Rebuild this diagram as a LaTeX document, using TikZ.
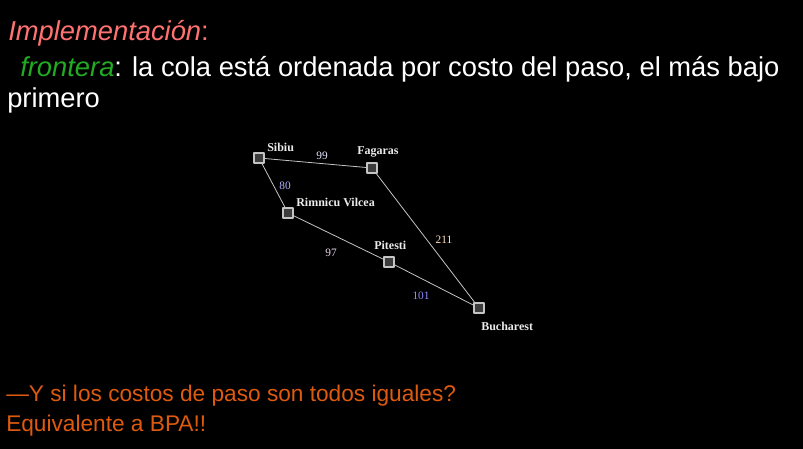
\documentclass[tikz,border=0pt]{standalone}
\usepackage{fontspec}
\setmainfont{Liberation Serif}
\setsansfont{Liberation Sans}
\definecolor{rosa}{HTML}{FF7272}
\definecolor{verde}{HTML}{22AA22}
\definecolor{naranja}{HTML}{DD5A0E}
\definecolor{borde}{HTML}{C4C4C4}
\definecolor{relleno}{HTML}{3C3C3C}
\tikzset{
  city/.style={draw=borde, fill=relleno, line width=1.5pt, minimum size=7.8pt, inner sep=0pt},
  cname/.style={font=\fontsize{9}{10}\selectfont\bfseries, text=white!92!black, anchor=base west, inner sep=0pt},
  wt/.style={font=\fontsize{8.5}{10}\selectfont, inner sep=0pt},
  road/.style={draw=borde, line width=0.6pt},
  txt/.style={font=\sffamily\fontsize{20.5}{22}\selectfont, anchor=base west, inner sep=0pt},
  pie/.style={font=\sffamily\fontsize{17}{20}\selectfont, anchor=base west, inner sep=0pt, text=naranja}
}
\begin{document}
\begin{tikzpicture}[x=0.75pt,y=-0.75pt, line join=round, line cap=round]
\fill[black] (0,0) rectangle (803,449);
\useasboundingbox (0,0) rectangle (803,449);
% texto de arriba
\node[txt, text=rosa] (imp) at (8,41) {\itshape Implementación\upshape:};
\node[txt, text=white] (fro) at (20,77) {\textcolor{verde}{\itshape frontera}: la cola está ordenada por costo del paso, el más bajo};
\node[txt, text=white] (pri) at (7,108) {primero};
% ciudades
\node[city] (sib) at (259,158) {};
\node[city] (fag) at (372,168) {};
\node[city] (rim) at (288,213) {};
\node[city] (pit) at (389,262) {};
\node[city] (buc) at (479,308) {};
\draw[road] (sib) -- (fag) (sib) -- (rim) (rim) -- (pit) (pit) -- (buc) (fag) -- (buc);
\foreach \c/\x/\y/\t in {sib/267/152/Sibiu, fag/357/155/Fagaras, rim/296/206/Rimnicu Vilcea, pit/374/249/Pitesti, buc/481/330/Bucharest}{
  \node[cname] (l\c) at (\x,\y) {\t};
}
% costos
\node[wt, text=blue!10!white] (w99) at (322,156) {99};
\node[wt, text=blue!30!white] (w80) at (285,186) {80};
\node[wt, text=violet!15!white] (w97) at (331,253) {97};
\node[wt, text=orange!25!white] (w211) at (444,240) {211};
\node[wt, text=blue!45!white] (w101) at (421,296) {101};
% texto de abajo
\node[pie] (pre) at (6,401) {---Y si los costos de paso son todos iguales?};
\node[pie] (bpa) at (6,431) {Equivalente a BPA!!};
\end{tikzpicture}
\end{document}
